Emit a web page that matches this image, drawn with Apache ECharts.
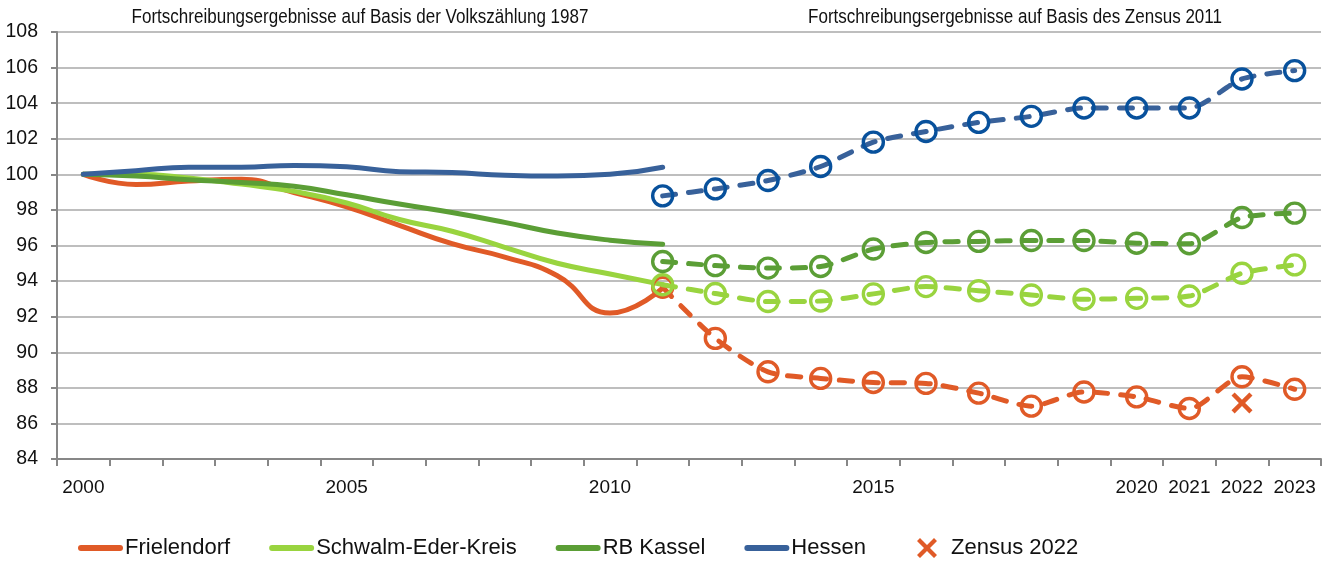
<!DOCTYPE html>
<html><head><meta charset="utf-8">
<script src="https://cdn.jsdelivr.net/npm/echarts@6/dist/echarts.min.js"></script>
<style>html,body{margin:0;padding:0;background:#fff}#c{width:1331px;height:563px}</style>
</head><body><div id="c"></div>
<script>
// ---- data ----
const years = ['2000','2001','2002','2003','2004','2005','2006','2007','2008','2009','2010','2011',
               '2012','2013','2014','2015','2016','2017','2018','2019','2020','2021','2022','2023'];
const xTickLabels = ['2000','2005','2010','2015','2020','2021','2022','2023'];
const seriesNames = ['Frielendorf','Schwalm-Eder-Kreis','RB Kassel','Hessen'];
const zensusName = 'Zensus 2022';
const titleLeft = 'Fortschreibungsergebnisse auf Basis der Volkszählung 1987';
const titleRight = 'Fortschreibungsergebnisse auf Basis des Zensus 2011';

// 2000–2011, basis Volkszählung 1987 (solid)
const frielendorfVZ = [100, 99.43, 99.62, 99.72, 98.98, 98.17, 97.13, 96.1, 95.35, 94.3, 92.2, 93.6];
const schwalmVZ     = [100, 100.0, 99.8, 99.45, 99.04, 98.39, 97.46, 96.8, 95.9, 95.0, 94.4, 93.8];
const kasselVZ      = [100, 99.9, 99.7, 99.54, 99.33, 98.85, 98.33, 97.85, 97.3, 96.7, 96.3, 96.07];
const hessenVZ      = [100, 100.2, 100.4, 100.4, 100.5, 100.42, 100.15, 100.1, 99.95, 99.9, 100.0, 100.4];

// 2011–2023, basis Zensus 2011 (dashed with markers)
const frielendorfZ = [93.65, 90.78, 88.9, 88.53, 88.3, 88.25, 87.7, 86.97, 87.77, 87.49, 86.84, 88.62, 87.92];
const schwalmZ     = [93.79, 93.3, 92.85, 92.88, 93.28, 93.69, 93.46, 93.22, 92.98, 93.03, 93.16, 94.44, 94.91];
const kasselZ      = [95.1, 94.87, 94.73, 94.82, 95.8, 96.17, 96.23, 96.28, 96.28, 96.13, 96.1, 97.57, 97.82];
const hessenZ      = [98.79, 99.18, 99.65, 100.44, 101.81, 102.41, 102.92, 103.26, 103.73, 103.73, 103.73, 105.36, 105.83];

const zensusYear = '2022';
const zensusValue = 87.15;

// ---- styling ----
const FONT = "'Liberation Sans', Arial, sans-serif";
const lineColors = ['#E05A27', '#99D43F', '#5B9E36', '#38619A'];
const markerColors = ['#E05A27', '#99D43F', '#5B9E36', '#08519C'];
const AXIS = '#878787';
const GRID = '#a8a8a8';

const solidData = [frielendorfVZ, schwalmVZ, kasselVZ, hessenVZ];
const dashData = [frielendorfZ, schwalmZ, kasselZ, hessenZ];
const zStart = years.indexOf('2011');

const series = [];
seriesNames.forEach((n, i) => {
  series.push({
    name: n, type: 'line', smooth: 0.5, symbol: 'none', z: 2 + i,
    color: lineColors[i],
    lineStyle: { color: lineColors[i], width: 5, cap: 'round', join: 'round' },
    data: solidData[i].map((v, k) => [years[k], v])
  });
});
seriesNames.forEach((n, i) => {
  series.push({
    name: n, type: 'line', smooth: 0.25, z: 6 + i,
    symbol: 'circle', symbolSize: 20, showAllSymbol: true,
    color: lineColors[i],
    itemStyle: { color: 'rgba(255,255,255,0)', borderColor: markerColors[i], borderWidth: 3.4 },
    lineStyle: { color: lineColors[i], width: 5, type: [13, 13], cap: 'round', join: 'round' },
    data: dashData[i].map((v, k) => [years[zStart + k], v])
  });
});
const XPATH = 'path://M0,3 L3,0 L10,7 L17,0 L20,3 L13,10 L20,17 L17,20 L10,13 L3,20 L0,17 L7,10 Z';
series.push({
  name: zensusName, type: 'scatter', z: 20,
  symbol: XPATH, symbolSize: 21, color: lineColors[0],
  itemStyle: { color: lineColors[0], opacity: 1 },
  data: [[zensusYear, zensusValue]]
});

const LINEICON = 'path://M3,0 L42,0 A3,3 0 0 1 42,6 L3,6 A3,3 0 0 1 3,0 Z';

const chart = echarts.init(document.getElementById('c'), null, { renderer: 'canvas' });
chart.setOption({
  animation: false,
  backgroundColor: '#fff',
  grid: { left: 57, right: 10, top: 32, bottom: 104, containLabel: false },
  xAxis: {
    type: 'category', data: years, boundaryGap: true,
    axisLine: { show: true, lineStyle: { color: AXIS, width: 2 } },
    axisTick: { show: true, interval: 0, length: 7, lineStyle: { color: AXIS, width: 2 } },
    axisLabel: {
      interval: (idx, val) => xTickLabels.indexOf(val) >= 0,
      margin: 19, fontFamily: FONT, fontSize: 19, color: '#111'
    },
    splitLine: { show: false }
  },
  yAxis: {
    type: 'value', min: 84, max: 108, interval: 2,
    axisLine: { show: true, lineStyle: { color: AXIS, width: 2 } },
    axisTick: { show: true, length: 6, lineStyle: { color: AXIS, width: 2 } },
    axisLabel: { margin: 19, fontFamily: FONT, fontSize: 19.5, color: '#111' },
    splitLine: { show: true, lineStyle: { color: GRID, width: 1.6 } }
  },
  legend: [{
    data: seriesNames.map(n => ({ name: n, icon: LINEICON })),
    left: 78, top: 537, padding: 0,
    itemWidth: 45, itemHeight: 6, itemGap: 39,
    textStyle: { fontFamily: FONT, fontSize: 22, color: '#111', padding: [0, 0, 0, -3] },
    selectedMode: false
  }, {
    data: [{ name: zensusName, icon: XPATH }],
    left: 917, top: 537, padding: 0,
    itemWidth: 20, itemHeight: 20,
    textStyle: { fontFamily: FONT, fontSize: 22, color: '#111', padding: [0, 0, 0, 9] },
    selectedMode: false
  }],
  graphic: [
    { type: 'text', x: 360, y: 17, scaleX: 0.83, style: { text: titleLeft, font: "20.5px " + FONT, fill: '#111', align: 'center', verticalAlign: 'middle', textAlign: 'center', textVerticalAlign: 'middle' } },
    { type: 'text', x: 1015, y: 17, scaleX: 0.83, style: { text: titleRight, font: "20.5px " + FONT, fill: '#111', align: 'center', verticalAlign: 'middle', textAlign: 'center', textVerticalAlign: 'middle' } }
  ],
  series: series
});
</script>
</body></html>
